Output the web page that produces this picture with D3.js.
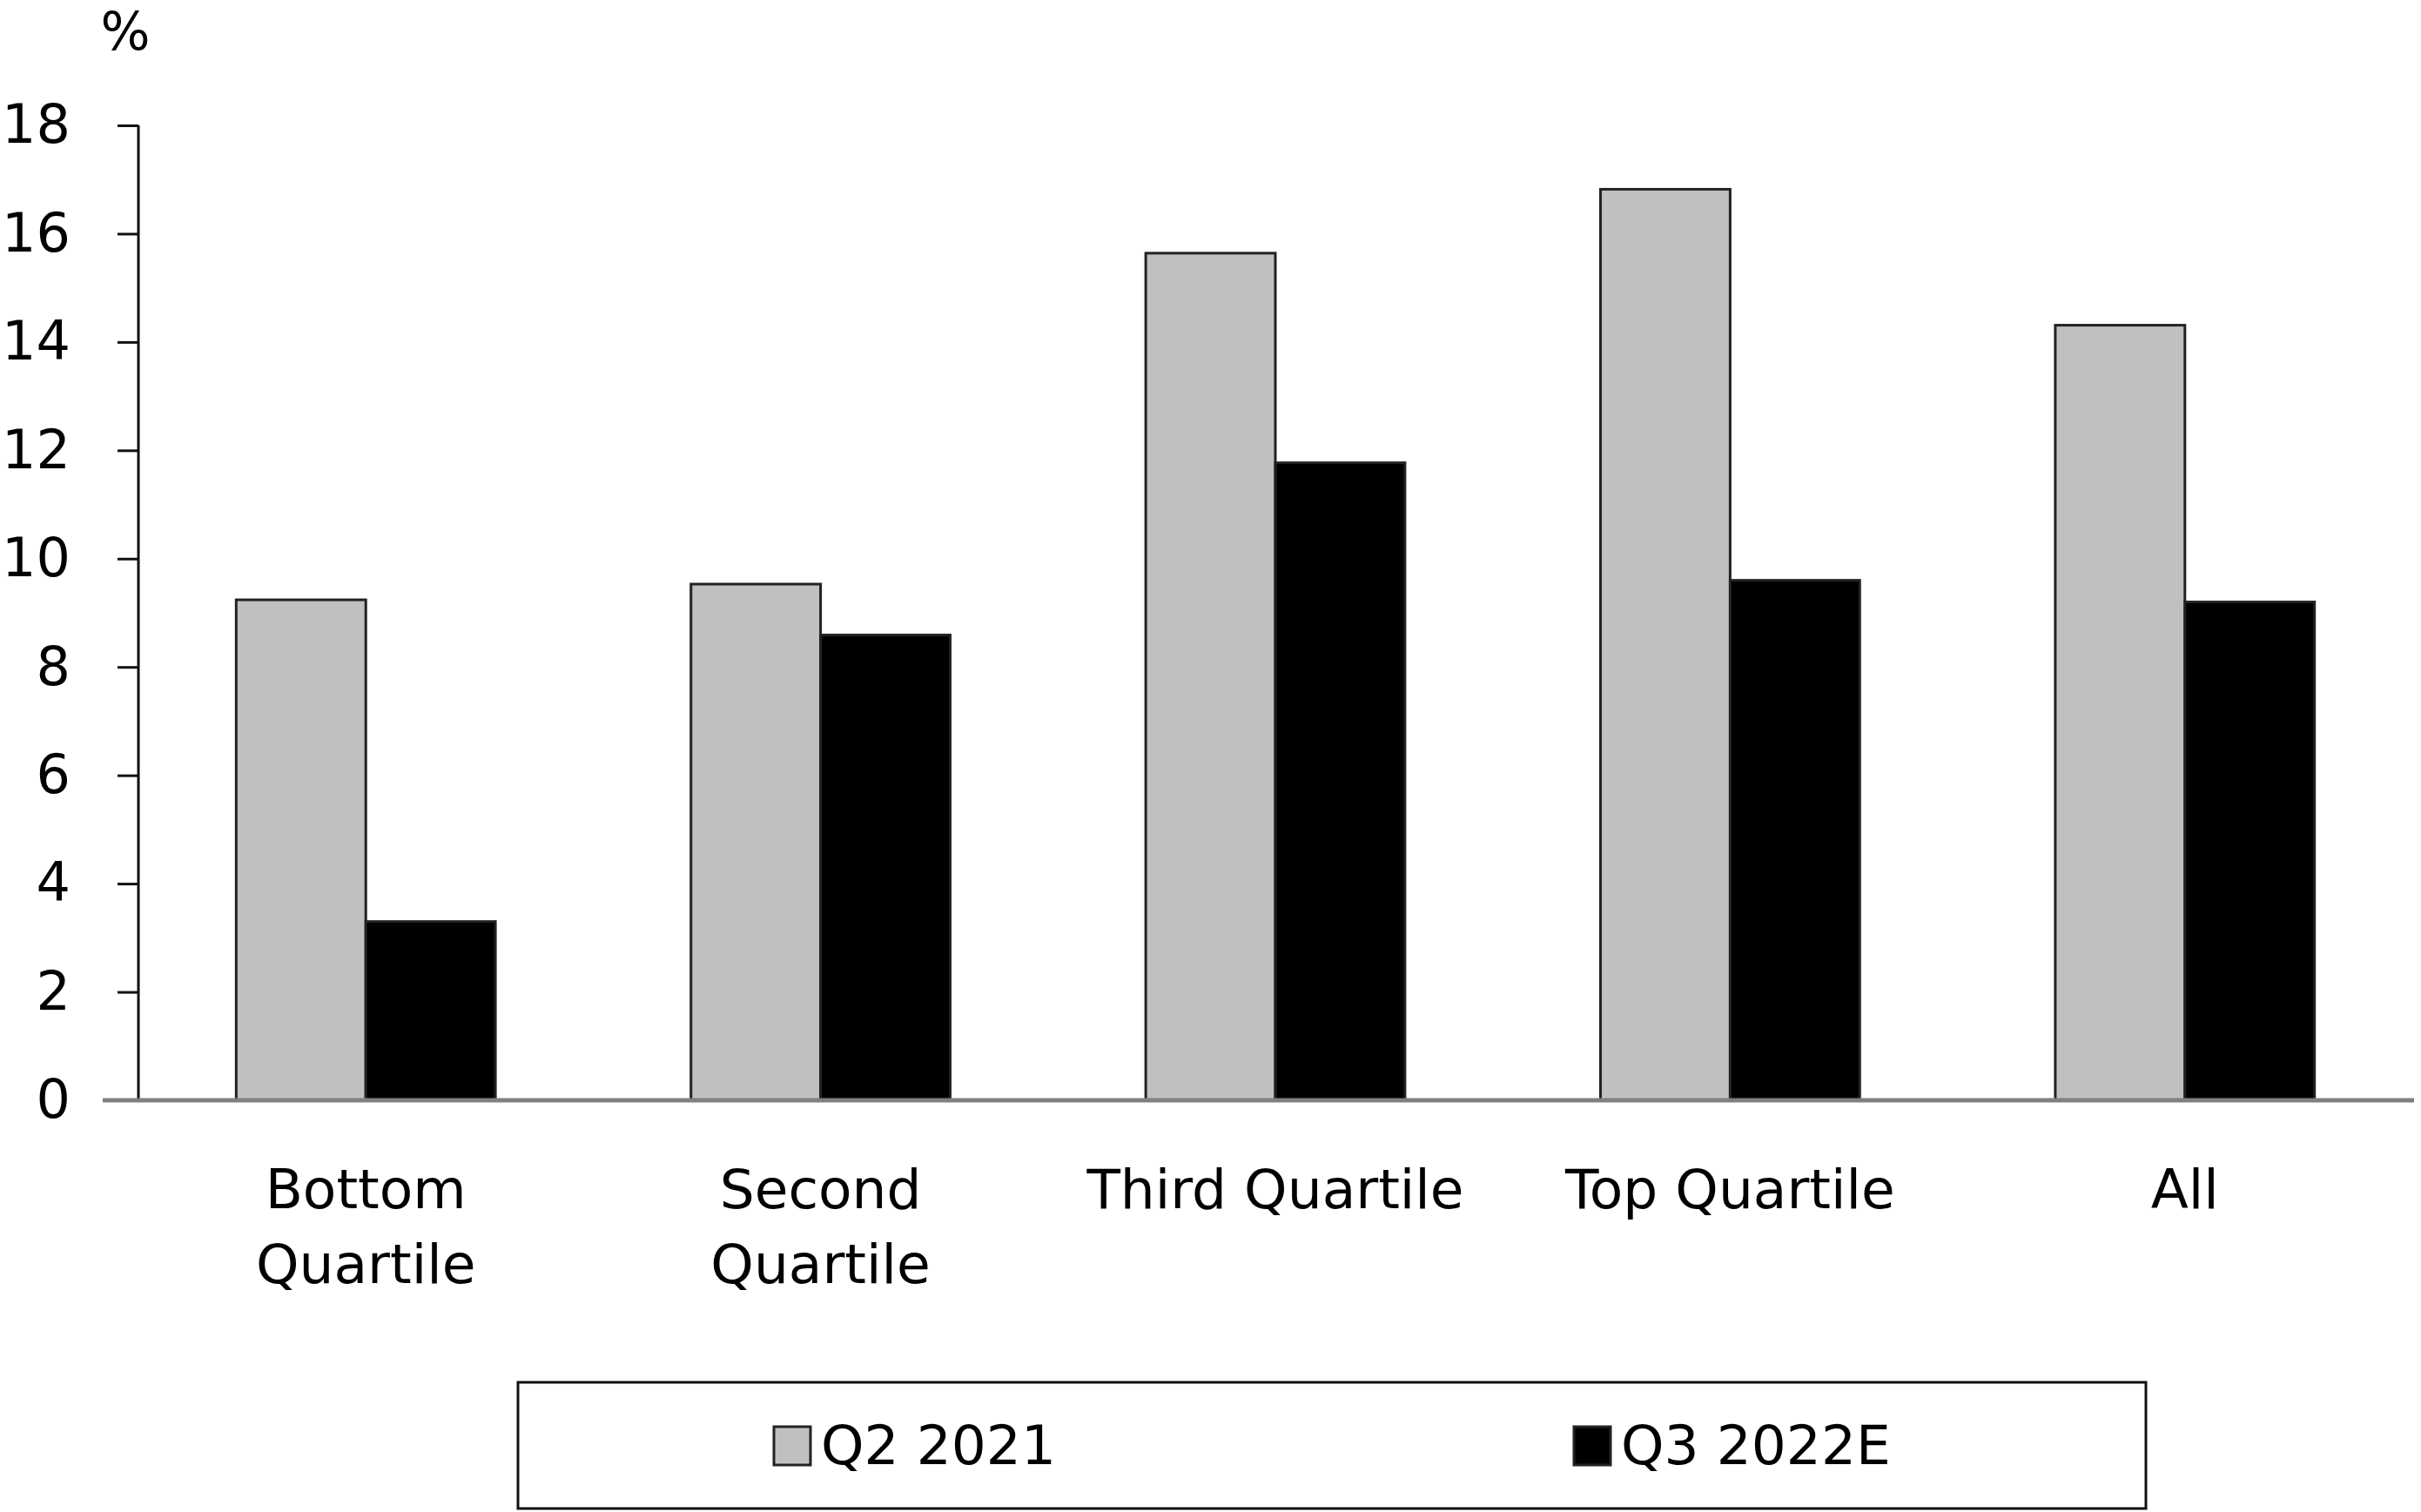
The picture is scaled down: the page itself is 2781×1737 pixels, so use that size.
<!DOCTYPE html>
<meta charset="utf-8">
<head>
<style>
  body { margin: 0; background: #fff; }
  text { font-family: "DejaVu Sans", Verdana, sans-serif; fill: #000; }
</style>
</head>
<body>
<script src="https://d3js.org/d3.v7.min.js"></script>
<script>

// data
var categories = [["Bottom", "Quartile"], ["Second", "Quartile"], ["Third Quartile"], ["Top Quartile"], ["All"]];
var seriesNames = ["Q2 2021", "Q3 2022E"];
var q2_2021 = [9.24, 9.53, 15.64, 16.82, 14.31];
var q3_2022e = [3.30, 8.59, 11.77, 9.60, 9.20];
var yTicks = [0, 2, 4, 6, 8, 10, 12, 14, 16, 18];
var colors = ["#c0c0c0", "#000000"];

var W = 2781, H = 1737;
var margin = {top: 144, right: 10, bottom: 473, left: 159};
var width = W - margin.left - margin.right,
    height = H - margin.top - margin.bottom;
var fs = 63;

var svg = d3.select("body").append("svg")
    .attr("width", W)
    .attr("height", H);

var g = svg.append("g")
    .attr("transform", "translate(" + margin.left + "," + margin.top + ")");

var x = d3.scaleBand()
    .domain(d3.range(categories.length))
    .range([0, width])
    .paddingInner(0.43)
    .paddingOuter(0.215);

var xs = d3.scaleBand()
    .domain([0, 1])
    .range([0, x.bandwidth()]);

var y = d3.scaleLinear().domain([0, 18]).range([height, 0]);

// bars
var series = [q2_2021, q3_2022e];
series.forEach(function(vals, si) {
  g.selectAll(".bar" + si)
    .data(vals)
    .enter().append("rect")
      .attr("x", function(v, i) { return x(i) + xs(si); })
      .attr("y", function(v) { return y(v); })
      .attr("width", xs.bandwidth())
      .attr("height", function(v) { return height - y(v); })
      .attr("fill", colors[si])
      .attr("stroke", "#222")
      .attr("stroke-width", 3);
});

// y axis
var yAxis = d3.axisLeft(y).tickValues(yTicks).tickSize(24).tickPadding(0).tickFormat(d3.format("d"));
var ya = g.append("g").call(yAxis);
ya.select(".domain").remove();
ya.selectAll(".tick line").attr("stroke", "#111").attr("stroke-width", 3);
ya.selectAll(".tick text")
    .attr("x", -78)
    .attr("dy", "0.32em")
    .style("font-size", "62px")
    .attr("fill", "#000");
g.append("line")
    .attr("x1", 0).attr("x2", 0)
    .attr("y1", 0).attr("y2", height)
    .attr("stroke", "#111").attr("stroke-width", 3);

// baseline
g.append("line")
    .attr("x1", -41).attr("x2", width + 2)
    .attr("y1", y(0)).attr("y2", y(0))
    .attr("stroke", "#808080").attr("stroke-width", 5);

// unit label
svg.append("text")
    .attr("x", 144).attr("y", 57)
    .attr("text-anchor", "middle")
    .style("font-size", "60px")
    .text("%");

// category labels
categories.forEach(function(lines, i) {
  var t = g.append("text")
      .attr("text-anchor", "middle")
      .style("font-size", fs + "px");
  lines.forEach(function(l, li) {
    t.append("tspan")
      .attr("x", x(i) + x.bandwidth() / 2)
      .attr("y", height + 124 + li * 86)
      .text(l);
  });
});

// legend
var legend = svg.append("g");
legend.append("rect")
    .attr("x", 595).attr("y", 1588)
    .attr("width", 1870).attr("height", 145)
    .attr("fill", "#fff")
    .attr("stroke", "#111").attr("stroke-width", 3);

var legendX = [889, 1808];
seriesNames.forEach(function(name, i) {
  legend.append("rect")
      .attr("x", legendX[i]).attr("y", 1639)
      .attr("width", 42).attr("height", 44)
      .attr("fill", colors[i])
      .attr("stroke", "#222").attr("stroke-width", 3);
  legend.append("text")
      .attr("x", legendX[i] + 54).attr("y", 1682)
      .style("font-size", fs + "px")
      .text(name);
});

</script>
</body>
